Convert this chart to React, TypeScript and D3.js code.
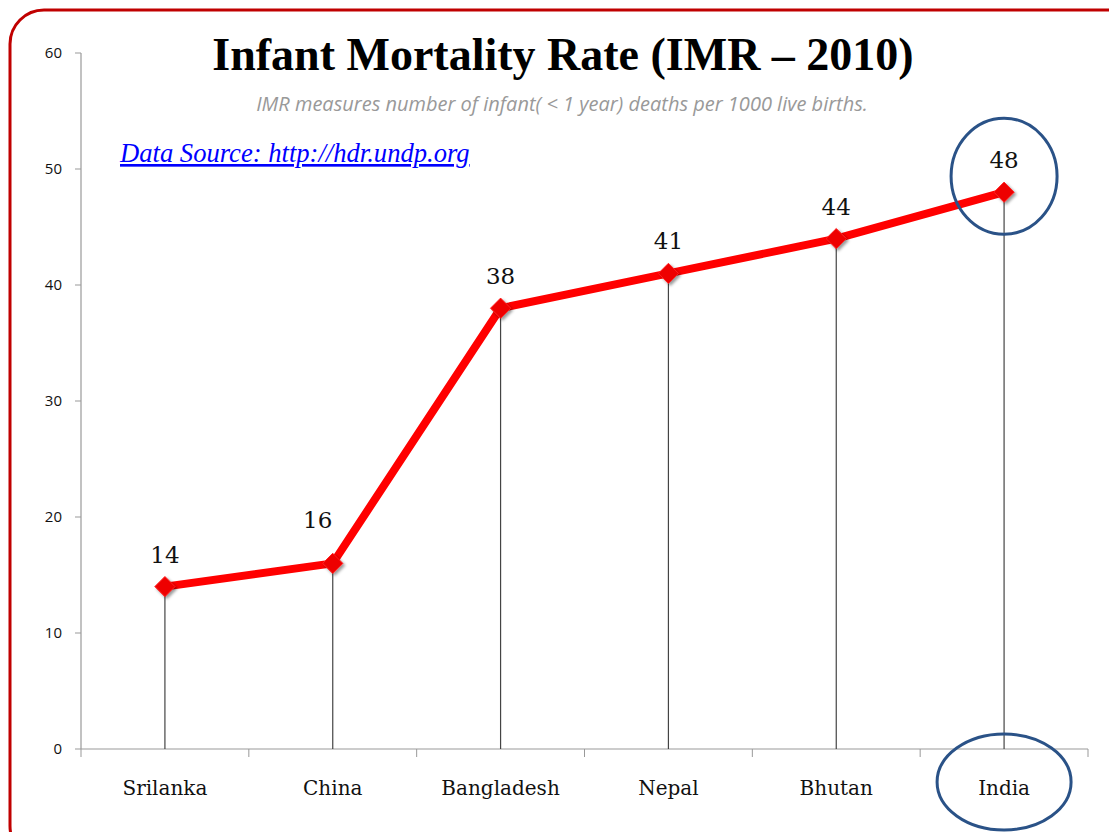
import React from 'react'
import * as d3 from 'd3'

const countries = ['Srilanka', 'China', 'Bangladesh', 'Nepal', 'Bhutan', 'India']
const imr = [14, 16, 38, 41, 44, 48]
const yTicks = [0, 10, 20, 30, 40, 50, 60]

const W = 1109
const H = 832

const App = () => {
    const x = d3.scaleBand().domain(countries).range([81, 1088])
    const y = d3.scaleLinear().domain([0, 60]).range([749, 53])
    const cx = (c: string) => (x(c) as number) + x.bandwidth() / 2

    const myLine = d3.line<number>()
        .x((v, i) => cx(countries[i]))
        .y(v => y(v))

    const diamond = d3.symbol().type(d3.symbolDiamond2).size(260)()

    const last = countries.length - 1
    const bandEdges = countries.map(c => x(c) as number).concat([1088])

    // labels sitting under a steep rising segment get pushed up/left, like excel did
    const labelShift = (i: number) => {
        const next = imr[i + 1]
        if (next !== undefined && next - imr[i] > 15) return [-15, -11]
        return [0, 0]
    }

    return (
        <div style={{ position: 'absolute', left: 0, top: 0 }}>
            <svg width={W} height={H}>
                <defs>
                    <filter id="sh" x="-50%" y="-50%" width="200%" height="200%">
                        <feDropShadow dx="2" dy="2" stdDeviation="1.5" floodColor="#000" floodOpacity="0.4" />
                    </filter>
                </defs>
                <rect x={10} y={10} width={1130} height={850} rx={34} ry={34}
                    fill="white" stroke="#c00000" strokeWidth={3} />

                {/* axes */}
                <line x1={81} x2={81} y1={53} y2={749} stroke="#999" strokeWidth={1.2} />
                <line x1={81} x2={1088} y1={749} y2={749} stroke="#999" strokeWidth={1.2} />
                {yTicks.map(t => (
                    <g key={t}>
                        <line x1={75} x2={81} y1={y(t)} y2={y(t)} stroke="#999" />
                        <text x={62} y={y(t)} dy="0.35em" textAnchor="end"
                            fontFamily="'Open Sans', sans-serif" fontSize={15} fill="#111">{t}</text>
                    </g>
                ))}
                {bandEdges.map((e, i) => (
                    <line key={i} x1={e} x2={e} y1={749} y2={757} stroke="#999" />
                ))}
                {countries.map(c => (
                    <text key={c} x={cx(c)} y={795} textAnchor="middle"
                        fontFamily="'DejaVu Serif', serif" fontSize={20} fill="#111">{c}</text>
                ))}

                {/* drop lines */}
                {imr.map((v, i) => (
                    <line key={i} x1={cx(countries[i])} x2={cx(countries[i])} y1={y(v)} y2={749}
                        stroke="#444" strokeWidth={1.2} />
                ))}

                <path d={myLine(imr) as string} fill="none" stroke="#ff0000" strokeWidth={8} strokeLinejoin="round" />
                {imr.map((v, i) => (
                    <path key={i} d={diamond as string} transform={`translate(${cx(countries[i])},${y(v)})`}
                        fill="#ee0000" stroke="#ff2020" strokeWidth={1} filter="url(#sh)" />
                ))}
                {imr.map((v, i) => {
                    const [dx, dy] = labelShift(i)
                    return (
                        <text key={i} x={cx(countries[i]) + dx} y={y(v) - 24 + dy} textAnchor="middle"
                            fontFamily="'DejaVu Serif', serif" fontSize={23} fill="#111">{v}</text>
                    )
                })}

                {/* highlight */}
                <ellipse cx={cx(countries[last])} cy={y(imr[last]) - 16} rx={53} ry={58}
                    fill="none" stroke="#2a5287" strokeWidth={3} />
                <ellipse cx={cx(countries[last])} cy={782} rx={67} ry={48}
                    fill="none" stroke="#2a5287" strokeWidth={3} />

                {/* titles */}
                <text x={563} y={70} textAnchor="middle" fontFamily="'Liberation Serif', serif"
                    fontWeight="bold" fontSize={46} fill="#000">Infant Mortality Rate (IMR – 2010)</text>
                <text x={562} y={111} textAnchor="middle" fontFamily="'Open Sans', sans-serif"
                    fontStyle="italic" fontSize={20} fill="#999">
                    IMR measures number of infant( &lt; 1 year) deaths per 1000 live births.
                </text>
                <text x={120} y={162} fontFamily="'Liberation Serif', serif" fontStyle="italic"
                    fontSize={26.6} fill="#0000ff" textDecoration="underline">Data Source: http://hdr.undp.org</text>
            </svg>
        </div>
    )
}

export default App
